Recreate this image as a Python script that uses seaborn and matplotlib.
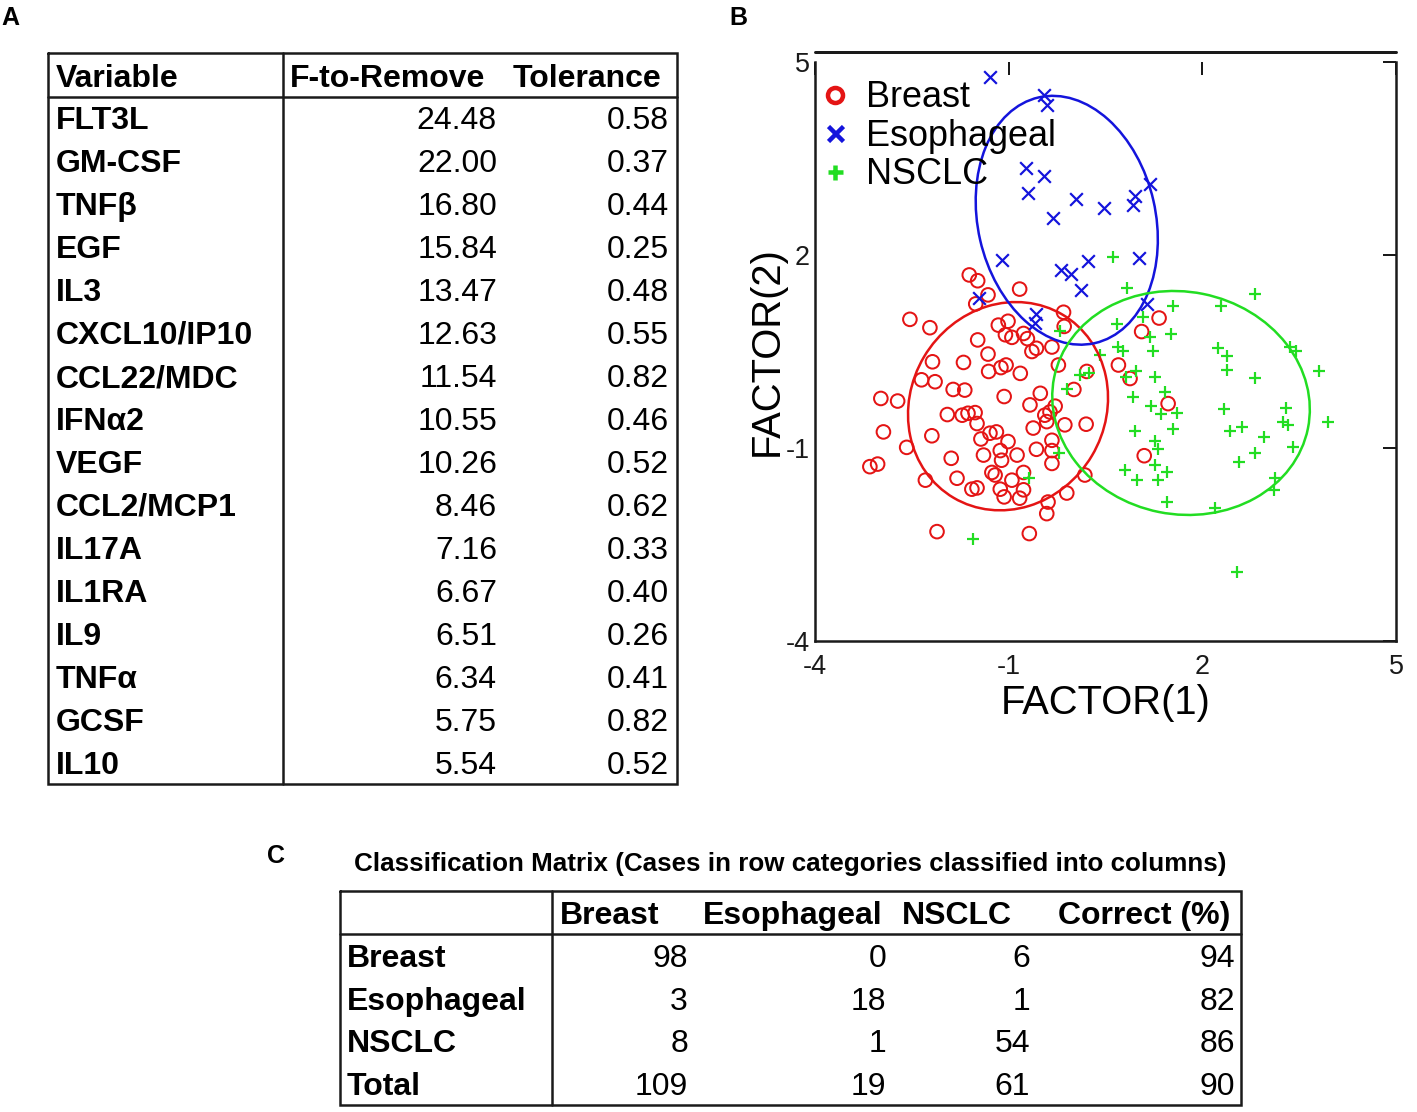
import numpy as np
import matplotlib
matplotlib.use("Agg")
import matplotlib.pyplot as plt
from matplotlib.patches import Ellipse
from matplotlib.lines import Line2D
import seaborn as sns

# ---------------- panel A: variables kept in the model ----------------
variables = ["FLT3L", "GM-CSF", "TNFβ", "EGF", "IL3", "CXCL10/IP10", "CCL22/MDC",
             "IFNα2", "VEGF", "CCL2/MCP1", "IL17A", "IL1RA", "IL9", "TNFα", "GCSF", "IL10"]
f_to_remove = [24.48, 22.00, 16.80, 15.84, 13.47, 12.63, 11.54, 10.55, 10.26,
               8.46, 7.16, 6.67, 6.51, 6.34, 5.75, 5.54]
tolerance = [0.58, 0.37, 0.44, 0.25, 0.48, 0.55, 0.82, 0.46, 0.52,
             0.62, 0.33, 0.40, 0.26, 0.41, 0.82, 0.52]

# ---------------- panel B: canonical scores ----------------
breast_x = [-1.61, -1.48, -1.32, -1.51, -2.53, -2.22, -1.16, -1.01, -1.05, -0.95,
            -1.48, -1.32, -2.18, -1.70, -1.12, -1.04, -1.31, -2.35, -2.14, -1.86,
            -1.68, -2.98, -2.72, -1.07, -1.95, -1.72, -1.63, -1.52, -1.49, -2.94,
            -2.19, -1.43, -1.29, -1.19, -1.01, -2.58, -1.89, -1.39, -1.13, -1.11,
            -3.15, -3.03, -2.29, -1.80, -1.26, -1.21, -1.57, -1.49, -1.13, -1.07,
            -2.11, -0.95,
            -0.83, -0.15, -0.77, -0.71, -0.57, -0.64, -0.33, -0.14, -0.23, -0.82,
            0.21, 0.01, 0.70, 0.88, 1.06, 1.33, 1.47, 1.10, -0.51, -0.67,
            -0.28, -0.44, -0.36, -0.41, -0.62, -0.13, 0.20, -0.33, -0.57, -0.87,
            -0.33, -0.33, -0.77, -0.77, -0.83, 0.18, -0.10, -0.39, -0.41, -0.68]
breast_y = [1.69, 1.60, 1.38, 1.24, 1.00, 0.87, 0.91, 0.97, 0.76, 0.72,
            0.68, 0.46, 0.34, 0.33, 0.25, 0.29, 0.19, 0.06, 0.03, -0.09,
            -0.10, -0.23, -0.27, -0.20, -0.48, -0.49, -0.46, -0.45, -0.62, -0.75,
            -0.81, -0.86, -0.77, -0.75, -0.90, -0.99, -1.16, -1.11, -1.04, -1.19,
            -1.29, -1.25, -1.50, -1.47, -1.38, -1.42, -1.64, -1.62, -1.64, -1.76,
            -2.30, -1.50,
            1.47, 1.11, 0.78, 0.70, 0.55, 0.50, 0.57, 0.89, 0.29, 0.16,
            0.19, -0.09, 0.29, 0.08, 0.81, 1.02, -0.31, -1.12, -0.15, -0.33,
            -0.35, -0.49, -0.44, -0.59, -0.69, -0.64, -0.63, -0.88, -1.02, -1.11,
            -1.04, -1.24, -1.38, -1.65, -1.78, -1.42, -1.70, -1.84, -2.02, -2.33]

esoph_x = [-1.29, -0.46, -0.41, -0.73, -0.46, -0.70, 0.04, 0.47, 0.96, 0.93, 1.19,
           -0.32, -1.11, 0.23, 1.02, -0.19, -0.04, 0.12, -1.46, 1.15, -0.57, -0.59]
esoph_y = [4.77, 4.49, 4.33, 3.36, 3.23, 2.96, 2.87, 2.73, 2.91, 2.77, 3.11,
           2.57, 1.92, 1.91, 1.95, 1.76, 1.70, 1.45, 1.33, 1.24, 1.08, 0.95]

nsclc_x = [0.61, 0.84, 2.82, 1.55, 2.29, 1.08, 0.68, 1.19, 1.51, 0.70,
           0.77, 1.23, 2.25, 2.38, 3.36, 3.45, 0.42, 0.98, 1.26, 2.38,
           2.82, 3.81, 0.11, 0.25, 0.82, -0.10, 0.92, 1.42, 1.21, 1.36,
           1.60, 2.33, 3.29, 3.25, 3.33, 3.94, 0.96, 1.54, 2.43, 2.61,
           2.95, 1.26, 1.32, 3.40, 2.82, 2.57, 1.27, 0.80, 1.46, 0.99,
           1.31, 3.13, 3.11, 1.45, 2.20, 2.54, -0.22, -0.68, -0.20, -1.55]
nsclc_y = [1.97, 1.48, 1.39, 1.20, 1.20, 1.03, 0.92, 0.73, 0.77, 0.57,
           0.50, 0.50, 0.55, 0.43, 0.57, 0.51, 0.45, 0.20, 0.11, 0.21,
           0.09, 0.19, 0.13, 0.17, 0.10, -0.08, -0.20, -0.13, -0.34, -0.47,
           -0.45, -0.39, -0.38, -0.59, -0.64, -0.59, -0.74, -0.71, -0.74, -0.67,
           -0.83, -0.89, -1.02, -0.99, -1.08, -1.21, -1.26, -1.34, -1.38, -1.50,
           -1.50, -1.47, -1.65, -1.84, -1.94, -2.92, -1.08, -1.47, 0.82, -2.42]

# group ellipses: centre x, centre y, var x, var y, cov xy
breast_ell = (-1.01, -0.35, 2.40, 2.62, 0.20)
esoph_ell = (-0.10, 2.54, 1.99, 3.74, -0.42)
nsclc_ell = (1.67, -0.30, 3.98, 3.03, -0.20)

# ---------------- panel C: classification matrix ----------------
class_cols = ["Breast", "Esophageal", "NSCLC", "Correct (%)"]
class_rows = ["Breast", "Esophageal", "NSCLC", "Total"]
class_counts = [[98, 0, 6, 94],
                [3, 18, 1, 82],
                [8, 1, 54, 86],
                [109, 19, 61, 90]]

RED, BLUE, GREEN = "#e41414", "#1414dc", "#22dd22"

sns.set_theme(style="white")
plt.rcParams["font.family"] = ["Liberation Sans", "DejaVu Sans"]
plt.rcParams["axes.unicode_minus"] = False
plt.rcParams["text.color"] = "black"
plt.rcParams["axes.labelcolor"] = "black"

W, H = 1417, 1112
fig = plt.figure(figsize=(W / 72, H / 72), dpi=72)

# overlay in pixel units for the two tables
ax_t = fig.add_axes([0, 0, 1, 1], zorder=0)
ax_t.set_xlim(0, W)
ax_t.set_ylim(H, 0)
ax_t.axis("off")


def box(x0, x1, y0, y1, lw=2.5):
    ax_t.plot([x0, x1, x1, x0, x0], [y0, y0, y1, y1, y0], color="k", lw=lw,
              solid_joinstyle="miter")


fs_tab = 32

# table A
box(48, 677, 53, 784)
ax_t.plot([48, 677], [97, 97], color="k", lw=2.5)
ax_t.plot([283, 283], [53, 784], color="k", lw=2.5)
ax_t.text(56, 87, "Variable", fontsize=fs_tab, fontweight="bold")
ax_t.text(290, 87, "F-to-Remove", fontsize=fs_tab, fontweight="bold")
ax_t.text(513, 87, "Tolerance", fontsize=fs_tab, fontweight="bold")
for i, (v, f, t) in enumerate(zip(variables, f_to_remove, tolerance)):
    yb = 129 + 43 * i
    ax_t.text(56, yb, v, fontsize=fs_tab, fontweight="bold")
    ax_t.text(497, yb, f"{f:.2f}", fontsize=fs_tab, ha="right")
    ax_t.text(669, yb, f"{t:.2f}", fontsize=fs_tab, ha="right")

# table C
ax_t.text(790, 871, "Classification Matrix (Cases in row categories classified into columns)",
          fontsize=26, fontweight="bold", ha="center")
box(340, 1241, 891, 1105)
ax_t.plot([340, 1241], [934, 934], color="k", lw=2.5)
ax_t.plot([552, 552], [891, 1105], color="k", lw=2.5)
col_left = [560, 703, 902, 1058]
col_right = [688, 886, 1030, 1235]
for c, xl in zip(class_cols, col_left):
    ax_t.text(xl, 924, c, fontsize=fs_tab, fontweight="bold")
for i, (r, vals) in enumerate(zip(class_rows, class_counts)):
    yb = 967 + 42.7 * i
    ax_t.text(347, yb, r, fontsize=fs_tab, fontweight="bold")
    for v, xr in zip(vals, col_right):
        ax_t.text(xr, yb, str(v), fontsize=fs_tab, ha="right")

# panel letters
for lab, x, y in [("A", 10, 25), ("B", 738, 25), ("C", 276, 863)]:
    ax_t.text(x, y, lab, fontsize=25, fontweight="bold", ha="center")

# ---------------- scatter panel ----------------
ax = fig.add_axes([815 / W, 1 - 641 / H, 581 / W, 579 / H], zorder=2)
ax.patch.set_alpha(0)

sns.scatterplot(x=breast_x, y=breast_y, ax=ax, marker="o", s=185,
                facecolors="none", edgecolor=RED, linewidth=2.0, legend=False)
sns.scatterplot(x=esoph_x, y=esoph_y, ax=ax, marker="x", s=160,
                color=BLUE, linewidth=2.2, legend=False)
sns.scatterplot(x=nsclc_x, y=nsclc_y, ax=ax, marker="+", s=140,
                color=GREEN, linewidth=2.2, legend=False)


def add_ellipse(p, color):
    cx, cy, sxx, syy, sxy = p
    vals, vecs = np.linalg.eigh(np.array([[sxx, sxy], [sxy, syy]]))
    ang = np.degrees(np.arctan2(vecs[1, 1], vecs[0, 1]))
    ax.add_patch(Ellipse((cx, cy), 2 * np.sqrt(vals[1]), 2 * np.sqrt(vals[0]),
                         angle=ang, fill=False, edgecolor=color, lw=2.5))


add_ellipse(breast_ell, RED)
add_ellipse(esoph_ell, BLUE)
add_ellipse(nsclc_ell, GREEN)

ax.set_xlim(-4, 5)
ax.set_ylim(-4, 5)
ax.set_xticks([-4, -1, 2, 5])
ax.set_yticks([-4, -1, 2, 5])
ax.tick_params(direction="in", length=13, width=2, top=True, right=True,
               labelsize=27, colors="k", pad=5)
ax.tick_params(axis="x", pad=13)
for side in ["left", "right", "bottom"]:
    ax.spines[side].set_linewidth(2.5)
    ax.spines[side].set_color("k")
ax.spines["top"].set_visible(False)
ax.plot([0, 1], [1.017, 1.017], transform=ax.transAxes, clip_on=False, color="k", lw=3)

ax.set_xlabel("FACTOR(1)", fontsize=40, labelpad=4)
ax.set_ylabel("FACTOR(2)", fontsize=40, labelpad=0)

handles = [
    Line2D([], [], ls="none", marker="o", ms=15, mfc="none", mec=RED, mew=4.5),
    Line2D([], [], ls="none", marker="x", ms=15, mec=BLUE, mew=4.5),
    Line2D([], [], ls="none", marker="+", ms=15, mec=GREEN, mew=4.5),
]
ax.legend(handles, ["Breast", "Esophageal", "NSCLC"], loc="upper left",
          bbox_to_anchor=(-0.005, 0.984), frameon=False, fontsize=36,
          handlelength=0.8, handletextpad=0.45, labelspacing=0.1,
          borderaxespad=0.1, borderpad=0.15)

fig.savefig("out.png", dpi=72)
